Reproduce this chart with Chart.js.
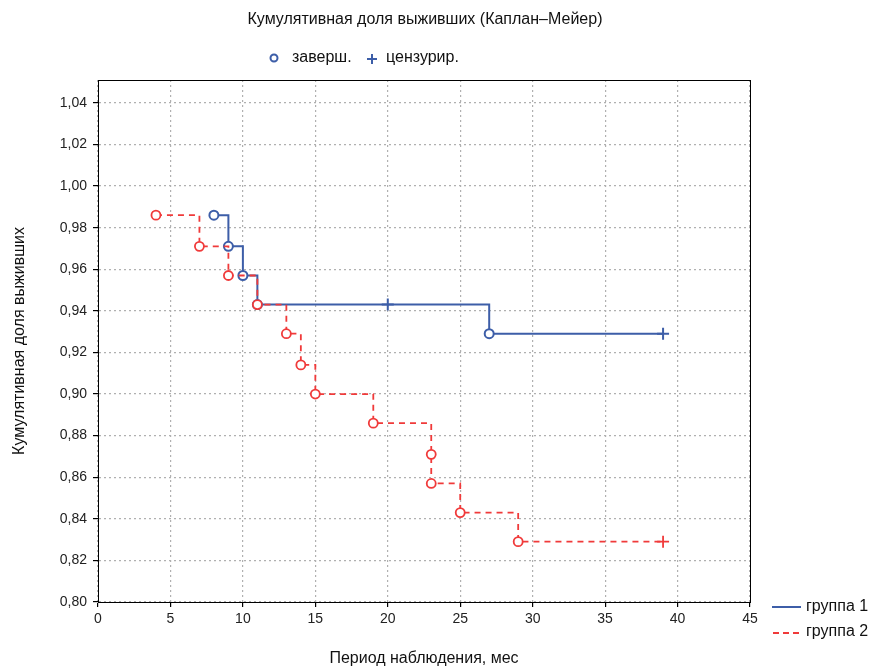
<!DOCTYPE html>
<html><head><meta charset="utf-8">
<script src="https://cdn.jsdelivr.net/npm/chart.js@4/dist/chart.umd.min.js"></script>
<style>html,body{margin:0;padding:0;background:#fff}#wrap{width:893px;height:672px;position:relative}</style>
</head><body><div id="wrap"><canvas id="c" width="893" height="672"></canvas></div>
<script>
const chartTitle = 'Кумулятивная доля выживших (Каплан–Мейер)';
const xTitle = 'Период наблюдения, мес';
const yTitle = 'Кумулятивная доля выживших';
const markerLegend = ['заверш.', 'цензурир.'];
const groupNames = ['группа 1', 'группа 2'];
const g1Time = [8, 9, 10, 11, 20, 27, 39];
const g1Surv = [0.986, 0.971, 0.957, 0.943, 0.943, 0.929, 0.929];
const g1Kind = ['e', 'e', 'e', 'e', 'c', 'e', 'c'];
const g2Time = [4, 7, 9, 11, 13, 14, 15, 19, 23, 23, 25, 29, 39];
const g2Surv = [0.986, 0.971, 0.957, 0.943, 0.929, 0.914, 0.900, 0.886, 0.871, 0.857, 0.843, 0.829, 0.829];
const g2Kind = ['e', 'e', 'e', 'e', 'e', 'e', 'e', 'e', 'e', 'e', 'e', 'e', 'c'];
const xMin = 0, xMax = 45, xStep = 5;
const yMin = 0.80, yMax = 1.051, yStep = 0.02;

const BLUE = '#3d5ea8', RED = '#f03a3a';
const FONT = '"Liberation Sans", Arial, sans-serif';

function pts(t, s) { return t.map((v, i) => ({x: v, y: s[i]})); }
function styles(k) { return k.map(v => v === 'e' ? 'circle' : 'cross'); }
function radii(k) { return k.map(v => v === 'e' ? 4.5 : 6); }

const deco = {
  id: 'deco',
  afterDraw(chart) {
    const ctx = chart.ctx, a = chart.chartArea;
    ctx.save();
    ctx.strokeStyle = '#000'; ctx.lineWidth = 1;
    ctx.strokeRect(Math.round(a.left) + 0.5, Math.round(a.top) + 0.5, Math.round(a.right - a.left), Math.round(a.bottom - a.top));
    ctx.fillStyle = '#111';
    ctx.textBaseline = 'middle';
    ctx.textAlign = 'center';
    ctx.font = '16px ' + FONT;
    ctx.fillText(chartTitle, 425, 20);
    // marker legend
    ctx.textAlign = 'left';
    ctx.strokeStyle = BLUE; ctx.lineWidth = 2;
    ctx.fillStyle = '#fff';
    ctx.beginPath(); ctx.arc(274, 58, 3.5, 0, Math.PI * 2); ctx.fill(); ctx.stroke();
    ctx.beginPath(); ctx.moveTo(367, 59); ctx.lineTo(377, 59); ctx.moveTo(372, 54); ctx.lineTo(372, 64); ctx.stroke();
    ctx.fillStyle = '#111';
    ctx.fillText(markerLegend[0], 292, 58);
    ctx.fillText(markerLegend[1], 386, 58);
    // group legend
    ctx.strokeStyle = BLUE; ctx.lineWidth = 2;
    ctx.beginPath(); ctx.moveTo(772, 607); ctx.lineTo(801, 607); ctx.stroke();
    ctx.strokeStyle = RED; ctx.setLineDash([6, 4]);
    ctx.beginPath(); ctx.moveTo(773, 633); ctx.lineTo(803, 633); ctx.stroke();
    ctx.setLineDash([]);
    ctx.fillText(groupNames[0], 806, 607);
    ctx.fillText(groupNames[1], 806, 632);
    ctx.restore();
  }
};

new Chart(document.getElementById('c'), {
  type: 'line',
  data: {
    datasets: [
      {label: groupNames[0], data: pts(g1Time, g1Surv), stepped: 'before', borderColor: BLUE, borderWidth: 2,
       pointStyle: styles(g1Kind), pointRadius: radii(g1Kind), pointBorderColor: BLUE, pointBackgroundColor: '#fff', pointBorderWidth: 2, order: 1},
      {label: groupNames[1], data: pts(g2Time, g2Surv), stepped: 'before', borderColor: RED, borderWidth: 1.8, borderDash: [6, 5],
       pointStyle: styles(g2Kind), pointRadius: radii(g2Kind), pointBorderColor: RED, pointBackgroundColor: '#fff', pointBorderWidth: 1.8, order: 0}
    ]
  },
  options: {
    responsive: false, animation: false, devicePixelRatio: 1,
    layout: {padding: {top: 80, right: 143, left: 0, bottom: 0}},
    plugins: {legend: {display: false}, title: {display: false}, tooltip: {enabled: false}},
    scales: {
      x: {
        type: 'linear', min: xMin, max: xMax,
        ticks: {stepSize: xStep, color: '#222', font: {size: 14, family: FONT}, padding: 4},
        grid: {color: '#b0b0b0', lineWidth: 1.2, tickColor: '#000', tickBorderDash: [], tickLength: 5, drawOnChartArea: true},
        border: {display: true, color: '#000', dash: [2, 3]},
        title: {display: true, text: xTitle, color: '#111', font: {size: 16, family: FONT}, padding: {top: 0, bottom: 4}},
        afterFit(s) { s.height = 70; }
      },
      y: {
        type: 'linear', min: yMin, max: yMax,
        ticks: {stepSize: yStep, color: '#222', font: {size: 14, family: FONT}, padding: 6,
                callback: v => v.toFixed(2).replace('.', ',')},
        afterBuildTicks(s) { s.ticks = s.ticks.filter(t => Math.abs(t.value / yStep - Math.round(t.value / yStep)) < 1e-6); },
        grid: {color: '#b0b0b0', lineWidth: 1.2, tickColor: '#000', tickBorderDash: [], tickLength: 5},
        border: {display: true, color: '#000', dash: [2, 3]},
        title: {display: true, text: yTitle, color: '#111', font: {size: 16, family: FONT}, padding: {top: 10, bottom: 0}},
        afterFit(s) { s.width = 98; }
      }
    }
  },
  plugins: [deco]
});
</script></body></html>
